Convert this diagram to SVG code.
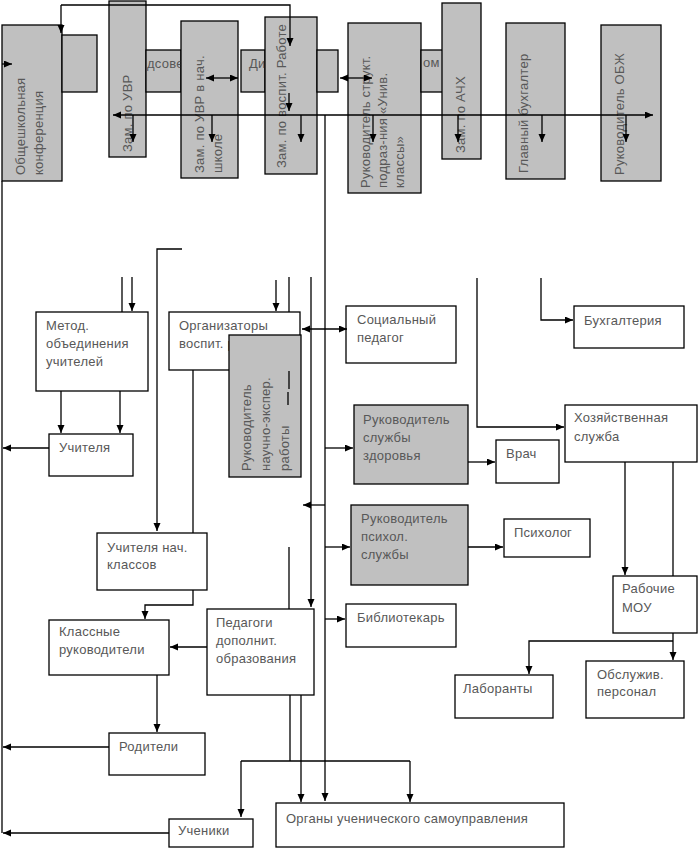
<svg xmlns="http://www.w3.org/2000/svg" width="698" height="848" viewBox="0 0 698 848">
<style>
.g{fill:#c0c0c0;stroke:#000;stroke-width:1.3}
.w{fill:#fff;stroke:#000;stroke-width:1.3}
text{font-family:"Liberation Sans",Arial,sans-serif;font-size:13px;fill:#585858;letter-spacing:0.25px}
.c path{fill:none;stroke:#000;stroke-width:1.3}
.a{marker-end:url(#ar)}
.d{marker-start:url(#ar);marker-end:url(#ar)}
</style>
<defs>
<marker id="ar" markerUnits="userSpaceOnUse" markerWidth="9" markerHeight="8" refX="8" refY="3.5" orient="auto-start-reverse">
<path d="M0,0 L8,3.5 L0,7 z" fill="#000"/>
</marker>
</defs>
<rect width="698" height="848" fill="#fff"/>

<g id="n-konf"><rect class="g" x="2" y="25" width="60" height="156"/>
<text transform="rotate(-90 25 175)" x="25" y="175">Общешкольная</text>
<text transform="rotate(-90 43 175)" x="43" y="175">конференция</text></g>
<g id="n-hA"><rect class="g" x="62" y="35" width="35" height="57"/></g>
<g id="n-uvr"><rect class="g" x="109" y="1" width="37" height="156"/>
<text transform="rotate(-90 132 152)" x="132" y="152">Зам. по УВР</text></g>
<g id="n-pedsovet"><rect class="g" x="146" y="50" width="35" height="42"/>
<text x="147" y="68">дсове</text></g>
<g id="n-uvrnach"><rect class="g" x="181" y="21" width="57" height="157"/>
<text transform="rotate(-90 204 173)" x="204" y="173">Зам. по УВР в нач.</text>
<text transform="rotate(-90 222 173)" x="222" y="173">школе</text></g>
<g id="n-dir"><rect class="g" x="241" y="50" width="24" height="42"/>
<text x="249" y="68">Ди</text></g>
<g id="n-vosp"><rect class="g" x="265" y="17" width="52" height="157"/>
<text transform="rotate(-90 286 168)" x="286" y="168">Зам. по воспит. Работе</text></g>
<g id="n-hB"><rect class="g" x="317" y="50" width="21" height="42"/></g>
<g id="n-struct"><rect class="g" x="348" y="23" width="73" height="170"/>
<text transform="rotate(-90 370 188)" x="370" y="188">Руководитель структ.</text>
<text transform="rotate(-90 387 188)" x="387" y="188">подраз-ния «Унив.</text>
<text transform="rotate(-90 404 188)" x="404" y="188">классы»</text></g>
<g id="n-hC"><rect class="g" x="421" y="50" width="22" height="42"/>
<text x="423" y="67">ом</text></g>
<g id="n-ach"><rect class="g" x="442" y="3" width="39" height="156"/>
<text transform="rotate(-90 465 153)" x="465" y="153">Зам. по АЧХ</text></g>
<g id="n-buh"><rect class="g" x="506" y="23" width="59" height="156"/>
<text transform="rotate(-90 528 173)" x="528" y="173">Главный бухгалтер</text></g>
<g id="n-obzh"><rect class="g" x="601" y="25" width="60" height="156"/>
<text transform="rotate(-90 624 175)" x="624" y="175">Руководитель ОБЖ</text></g>

<g id="n-metod"><rect class="w" x="36" y="312" width="112" height="79"/>
<text x="46" y="330">Метод.</text><text x="46" y="348">объединения</text><text x="46" y="366">учителей</text></g>
<g id="n-uchitelya"><rect class="w" x="49" y="434" width="84" height="42"/>
<text x="59" y="452">Учителя</text></g>
<g id="n-org"><rect class="w" x="169" y="312" width="131" height="58"/>
<text x="179" y="330">Организаторы</text><text x="179" y="348">воспит. работы</text></g>
<g id="n-nauch"><rect class="g" x="229" y="335" width="72" height="142"/>
<text transform="rotate(-90 251 471)" x="251" y="471">Руководитель</text>
<text transform="rotate(-90 270 471)" x="270" y="471">научно-экспер.</text>
<text transform="rotate(-90 289 471)" x="289" y="471">работы</text></g>
<g id="n-soc"><rect class="w" x="346" y="306" width="110" height="57"/>
<text x="357" y="324">Социальный</text><text x="357" y="342">педагог</text></g>
<g id="n-buhg"><rect class="w" x="574" y="306" width="110" height="42"/>
<text x="584" y="325">Бухгалтерия</text></g>
<g id="n-zdor"><rect class="g" x="354" y="405" width="114" height="79"/>
<text x="363" y="424">Руководитель</text><text x="363" y="442">службы</text><text x="363" y="460">здоровья</text></g>
<g id="n-hoz"><rect class="w" x="565" y="405" width="132" height="57"/>
<text x="574" y="422">Хозяйственная</text><text x="574" y="441">служба</text></g>
<g id="n-vrach"><rect class="w" x="496" y="440" width="63" height="43"/>
<text x="506" y="458">Врач</text></g>
<g id="n-psyh"><rect class="g" x="351" y="505" width="117" height="80"/>
<text x="361" y="523">Руководитель</text><text x="361" y="541">психол.</text><text x="361" y="559">службы</text></g>
<g id="n-psiholog"><rect class="w" x="504" y="519" width="86" height="38"/>
<text x="514" y="537">Психолог</text></g>
<g id="n-nach"><rect class="w" x="97" y="533" width="110" height="57"/>
<text x="107" y="552">Учителя нач.</text><text x="107" y="569">классов</text></g>
<g id="n-rab"><rect class="w" x="613" y="576" width="84" height="57"/>
<text x="622" y="593">Рабочие</text><text x="622" y="612">МОУ</text></g>
<g id="n-bibl"><rect class="w" x="346" y="604" width="110" height="43"/>
<text x="357" y="622">Библиотекарь</text></g>
<g id="n-ped"><rect class="w" x="207" y="609" width="107" height="86"/>
<text x="216" y="627">Педагоги</text><text x="216" y="645">дополнит.</text><text x="216" y="663">образования</text></g>
<g id="n-klass"><rect class="w" x="49" y="620" width="120" height="55"/>
<text x="59" y="636">Классные</text><text x="59" y="654">руководители</text></g>
<g id="n-lab"><rect class="w" x="455" y="675" width="98" height="43"/>
<text x="463" y="693">Лаборанты</text></g>
<g id="n-obsl"><rect class="w" x="586" y="661" width="98" height="57"/>
<text x="597" y="679">Обслужив.</text><text x="597" y="696">персонал</text></g>
<g id="n-rod"><rect class="w" x="109" y="733" width="96" height="42"/>
<text x="119" y="751">Родители</text></g>
<g id="n-uch"><rect class="w" x="169" y="819" width="84" height="28"/>
<text x="178" y="835">Ученики</text></g>
<g id="n-organy"><rect class="w" x="276" y="803" width="288" height="44"/>
<text x="286" y="823">Органы ученического самоуправления</text></g>

<g id="connectors" class="c">
<path class="a" d="M61,5 V33"/>
<path class="a" d="M61,5 H290 V46"/>
<path class="a" d="M2,64 H12"/>
<path class="a" d="M289,93 V111"/>
<path class="d" d="M206,78 H238"/>
<path class="d" d="M340,78 H372"/>
<path class="d" d="M113,115 H653"/>
<path class="a" d="M133,115 V142"/>
<path class="a" d="M212,115 V142"/>
<path class="a" d="M301,115 V142"/>
<path class="a" d="M373,115 V142"/>
<path class="a" d="M458,115 V142"/>
<path class="a" d="M542,115 V142"/>
<path class="a" d="M626,115 V142"/>
<path class="a" d="M325,115 V801"/>
<path d="M2,181 V833"/>
<path class="a" d="M182,249 H157 V531"/>
<path d="M122,277 V312"/>
<path class="a" d="M132,277 V311"/>
<path class="a" d="M276,280 V311"/>
<path d="M289,277 V312"/>
<path d="M289,371 V389"/>
<path d="M288,392 V405"/>
<path class="a" d="M311,277 V607"/>
<path class="d" d="M302,329 H347"/>
<path class="a" d="M325,505 H303"/>
<path class="a" d="M325,448 H353"/>
<path class="a" d="M325,547 H350"/>
<path class="a" d="M325,619 H345"/>
<path d="M289,547 V609"/>
<path class="a" d="M61,391 V433"/>
<path class="a" d="M120,391 V433"/>
<path class="a" d="M49,448 H3"/>
<path d="M193,370 V533"/>
<path class="a" d="M193,590 V605 H145 V619"/>
<path class="a" d="M207,647 H170"/>
<path class="a" d="M157,675 V732"/>
<path class="a" d="M109,747 H3"/>
<path class="a" d="M169,833 H3"/>
<path d="M290,695 V761"/>
<path d="M241,761 H410"/>
<path class="a" d="M241,761 V817"/>
<path class="a" d="M410,761 V802"/>
<path class="a" d="M301,695 V802"/>
<path class="a" d="M477,278 V427 H564"/>
<path class="a" d="M541,278 V320 H573"/>
<path class="a" d="M468,462 H495"/>
<path class="a" d="M468,547 H503"/>
<path class="a" d="M625,462 V575"/>
<path d="M673,462 V576"/>
<path class="a" d="M673,633 V660"/>
<path class="a" d="M673,641 H529 V674"/>
</g>
</svg>
